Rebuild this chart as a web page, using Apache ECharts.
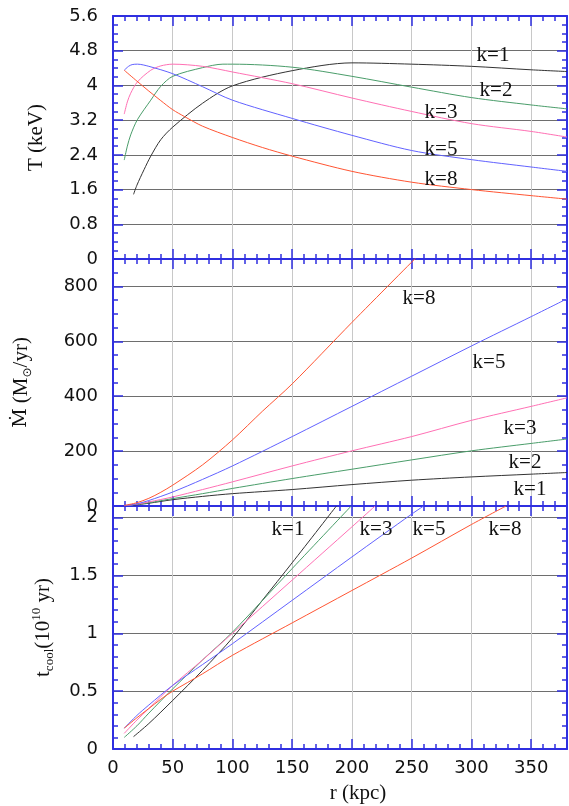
<!DOCTYPE html>
<html><head><meta charset="utf-8">
<script src="https://cdn.jsdelivr.net/npm/echarts@6/dist/echarts.min.js"></script>
<style>html,body{margin:0;padding:0;background:#fff}#c{width:569px;height:806px}</style>
</head><body><div id="c"></div>
<script>
// ---------- DATA ----------
const kLabels = ['k=1', 'k=2', 'k=3', 'k=5', 'k=8'];

// Panel 1: temperature T (keV) vs r (kpc)
const rT1 = [17.2, 20, 26, 31.6, 40, 50, 75, 100, 150, 200, 250, 300, 350, 380];
const T1  = [1.49, 1.70, 2.06, 2.37, 2.75, 3.04, 3.59, 3.99, 4.34, 4.52, 4.49, 4.44, 4.36, 4.32];
const rT2 = [9.4, 12, 14.8, 20.4, 31.6, 40, 50, 75, 92, 100, 150, 200, 250, 300, 350, 380];
const T2  = [2.28, 2.60, 2.86, 3.21, 3.66, 3.98, 4.21, 4.41, 4.49, 4.49, 4.42, 4.21, 3.96, 3.72, 3.55, 3.46];
const rT3 = [9.4, 12, 14.8, 20.4, 31.6, 40, 50, 75, 100, 150, 200, 250, 300, 350, 380];
const T3  = [3.34, 3.62, 3.82, 4.08, 4.35, 4.45, 4.49, 4.44, 4.31, 4.04, 3.71, 3.40, 3.12, 2.94, 2.81];
const rT5 = [9.4, 13, 16, 20.5, 30, 50, 75, 100, 150, 200, 250, 300, 350, 380];
const T5  = [4.35, 4.44, 4.48, 4.49, 4.44, 4.27, 3.97, 3.66, 3.24, 2.85, 2.50, 2.29, 2.12, 2.02];
const rT8 = [9.4, 20, 30, 40, 50, 60, 75, 100, 125, 150, 200, 250, 300, 350, 380];
const T8  = [4.35, 4.10, 3.87, 3.65, 3.44, 3.28, 3.06, 2.80, 2.57, 2.37, 2.02, 1.77, 1.60, 1.46, 1.38];

// Panel 2: mass deposition rate (Msun/yr) vs r (kpc)
const rM1 = [17, 30, 50, 75, 100, 150, 200, 250, 300, 350, 380];
const M1  = [3, 10, 23, 35, 45, 60, 78, 94, 106, 116, 122];
const rM  = [9.4, 20, 30, 50, 75, 100, 150, 200, 250, 300, 350, 380];
const M2  = [1, 6, 12, 27, 45, 64, 100, 134, 168, 201, 228, 244];
const M3  = [1, 7, 15, 33, 60, 88, 146, 201, 253, 312, 363, 394];
const M5  = [1, 8, 20, 51, 97, 146, 253, 363, 473, 583, 690, 755];
const rM8 = [9.4, 20, 30, 40, 50, 75, 100, 125, 150, 200, 256];
const M8  = [2, 12, 28, 50, 76, 150, 241, 345, 445, 669, 915];

// Panel 3: cooling time (1e10 yr) vs r (kpc)
const rC1 = [17.2, 30, 50, 75, 100, 125, 150, 187];
const C1  = [0.107, 0.22, 0.42, 0.68, 0.96, 1.285, 1.61, 2.1];
const rC2 = [9.4, 20, 30, 50, 75, 100, 150, 199.4];
const C2  = [0.10, 0.20, 0.31, 0.52, 0.77, 1.01, 1.56, 2.1];
const rC3 = [9.4, 20, 30, 50, 75, 100, 150, 200, 219.4];
const C3  = [0.135, 0.25, 0.35, 0.55, 0.77, 1.0, 1.46, 1.92, 2.1];
const rC5 = [9.4, 20, 30, 50, 75, 100, 150, 200, 250, 260];
const C5  = [0.18, 0.29, 0.38, 0.55, 0.73, 0.91, 1.285, 1.66, 2.03, 2.1];
const rC8 = [9.4, 20, 30, 40, 50, 75, 100, 150, 200, 250, 300, 329];
const C8  = [0.18, 0.27, 0.35, 0.43, 0.50, 0.65, 0.81, 1.09, 1.37, 1.65, 1.94, 2.1];

// Axis ranges / ticks
const xRange = [0, 380], xMajor = 50, xMinor = 10;
const tRange = [0, 5.6], tMajor = 0.8, tMinor = 0.2;
const mRange = [0, 900], mMajor = 200, mMinor = 50;
const cRange = [0, 2.1], cMajor = 0.5, cMinor = 0.1;

// ---------- STYLE ----------
const BLUE = '#2f2fe0';
const SERIF = 'Liberation Serif';
const SANS = 'DejaVu Sans';
const kColors = ['#333333', '#4a9d6a', '#ff70b4', '#6262ff', '#ff5533'];

function zip(xs, ys) { return xs.map((x, i) => [x, ys[i]]); }

const grids = [
  { left: 113, top: 16, width: 454, height: 243 },
  { left: 113, top: 259, width: 454, height: 247 },
  { left: 113, top: 506, width: 454, height: 243 }
];

const xAxes = [], yAxes = [];
function addX(gi, showLabels, name) {
  const base = { gridIndex: gi, type: 'value', min: xRange[0], max: xRange[1] };
  xAxes.push(Object.assign({}, base, {
    position: 'bottom', interval: xMajor,
    axisLine: { show: true, onZero: false, lineStyle: { color: BLUE, width: 2 } },
    axisTick: { show: true, inside: true, length: 10, lineStyle: { color: BLUE, width: 1.5 } },
    axisLabel: { show: showLabels, showMaxLabel: false, margin: 10, fontFamily: SANS, fontSize: 18, color: '#111' },
    splitLine: { show: true, lineStyle: { color: '#c8c8c8', width: 1 } },
    name: name || '', nameLocation: 'middle', nameGap: 34,
    nameTextStyle: { fontFamily: SERIF, fontSize: 21, color: '#111', padding: [0, 0, 0, 36] }
  }));
  xAxes.push(Object.assign({}, base, {
    position: 'bottom', interval: xMinor,
    axisLine: { show: false, onZero: false },
    axisTick: { show: true, inside: true, length: 5, lineStyle: { color: BLUE, width: 1.5 } },
    axisLabel: { show: false }, splitLine: { show: false }
  }));
  xAxes.push(Object.assign({}, base, {
    position: 'top', interval: xMajor,
    axisLine: { show: true, onZero: false, lineStyle: { color: BLUE, width: 2 } },
    axisTick: { show: true, inside: true, length: 10, lineStyle: { color: BLUE, width: 1.5 } },
    axisLabel: { show: false }, splitLine: { show: false }
  }));
  xAxes.push(Object.assign({}, base, {
    position: 'top', interval: xMinor,
    axisLine: { show: false, onZero: false },
    axisTick: { show: true, inside: true, length: 5, lineStyle: { color: BLUE, width: 1.5 } },
    axisLabel: { show: false }, splitLine: { show: false }
  }));
}
function addY(gi, range, major, minor, name, nameGap, rich) {
  const base = { gridIndex: gi, type: 'value', min: range[0], max: range[1] };
  yAxes.push(Object.assign({}, base, {
    position: 'left', interval: major,
    axisLine: { show: true, onZero: false, lineStyle: { color: BLUE, width: 2 } },
    axisTick: { show: true, inside: true, length: 10, lineStyle: { color: BLUE, width: 1.5 } },
    axisLabel: { show: true, margin: 15, fontFamily: SANS, fontSize: 18, color: '#111',
      showMaxLabel: (range[1] / major) % 1 < 1e-6 || (range[1] / major) % 1 > 1 - 1e-6 },
    splitLine: { show: true, lineStyle: { color: '#6e6e6e', width: 1 } },
    name: name, nameLocation: 'middle', nameGap: nameGap,
    nameTextStyle: { fontFamily: SERIF, fontSize: 21, color: '#111', rich: rich || {} }
  }));
  yAxes.push(Object.assign({}, base, {
    position: 'left', interval: minor,
    axisLine: { show: false, onZero: false },
    axisTick: { show: true, inside: true, length: 5, lineStyle: { color: BLUE, width: 1.5 } },
    axisLabel: { show: false }, splitLine: { show: false }
  }));
  yAxes.push(Object.assign({}, base, {
    position: 'right', interval: major,
    axisLine: { show: true, onZero: false, lineStyle: { color: BLUE, width: 2 } },
    axisTick: { show: true, inside: true, length: 10, lineStyle: { color: BLUE, width: 1.5 } },
    axisLabel: { show: false }, splitLine: { show: false }
  }));
  yAxes.push(Object.assign({}, base, {
    position: 'right', interval: minor,
    axisLine: { show: false, onZero: false },
    axisTick: { show: true, inside: true, length: 5, lineStyle: { color: BLUE, width: 1.5 } },
    axisLabel: { show: false }, splitLine: { show: false }
  }));
}

const richBase = {
  n: { fontFamily: SERIF, fontSize: 21, lineHeight: 26, color: '#111' },
  md: { fontFamily: 'DejaVu Serif', fontSize: 19, lineHeight: 26, color: '#111' },
  sub: { fontFamily: SERIF, fontSize: 13, color: '#111', verticalAlign: 'bottom' },
  sup: { fontFamily: SERIF, fontSize: 13, color: '#111', verticalAlign: 'top' },
  sun: { fontFamily: 'DejaVu Sans', fontSize: 12, color: '#111', verticalAlign: 'bottom' }
};

addX(0, false); addX(1, false); addX(2, true, 'r (kpc)');
addY(0, tRange, tMajor, tMinor, 'T (keV)', 66);
addY(1, mRange, mMajor, mMinor, '{md|Ṁ}{n| (M}{sun|⊙}{n|/yr)}', 79, richBase);
addY(2, cRange, cMajor, cMinor, '{n|t}{sub|cool}{n|(10}{sup|10}{n| yr)}', 57, richBase);

function line(gi, xs, ys, ci) {
  return {
    type: 'line', xAxisIndex: gi * 4, yAxisIndex: gi * 4,
    data: zip(xs, ys), showSymbol: false, smooth: 0.3,
    clip: true, lineStyle: { color: kColors[ci], width: 1 }, z: 3, silent: true
  };
}

const series = [
  line(0, rT1, T1, 0), line(0, rT2, T2, 1), line(0, rT3, T3, 2), line(0, rT5, T5, 3), line(0, rT8, T8, 4),
  line(1, rM1, M1, 0), line(1, rM, M2, 1), line(1, rM, M3, 2), line(1, rM, M5, 3), line(1, rM8, M8, 4),
  line(2, rC1, C1, 0), line(2, rC2, C2, 1), line(2, rC3, C3, 2), line(2, rC5, C5, 3), line(2, rC8, C8, 4)
];

// curve labels (pixel layout)
const labelPos = [
  [0, 493, 55], [1, 496, 90], [2, 441, 112], [3, 441, 149], [4, 441, 179],
  [4, 419, 298], [3, 489, 362], [2, 520, 428], [1, 525, 462], [0, 530, 489],
  [0, 288, 529], [2, 376, 529], [3, 429, 529], [4, 505, 529]
];
const graphic = labelPos.map(p => ({
  type: 'text', x: p[1], y: p[2], z: 10,
  style: { text: kLabels[p[0]], fill: '#111', font: '21px "' + SERIF + '"', textAlign: 'center', textVerticalAlign: 'middle' }
}));

const chart = echarts.init(document.getElementById('c'), null, { renderer: 'canvas' });
chart.setOption({
  animation: false,
  backgroundColor: '#ffffff',
  grid: grids,
  xAxis: xAxes,
  yAxis: yAxes,
  series: series,
  graphic: graphic
});
</script>
</body></html>
